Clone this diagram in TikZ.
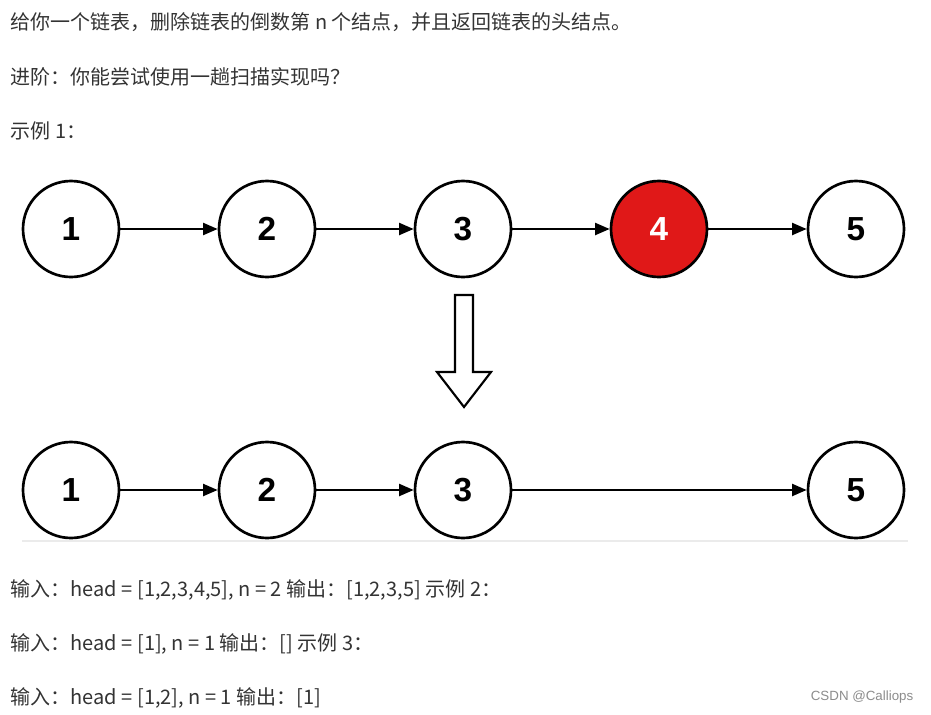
\documentclass[tikz,border=0pt]{standalone}
\usepackage{fontspec}
\setmainfont{Liberation Sans}
\newfontfamily\cjk{Noto Sans CJK SC}
\usetikzlibrary{arrows.meta}
\definecolor{delred}{RGB}{224,24,24}
\tikzset{
	listnode/.style={circle,draw,line width=2pt,minimum size=72pt,inner sep=0pt,font=\fontsize{25}{25}\bfseries},
	link/.style={-{Triangle[length=11pt,width=9pt]},line width=1.8pt},
	line text/.style={anchor=west,font=\cjk\fontsize{15}{17}\selectfont,text=black!80}
}
\begin{document}
\begin{tikzpicture}[x=0.75pt,y=-0.75pt]
	\useasboundingbox[fill=white] (0,0) rectangle (931,714);
	% question text
	\node[line text] (q1) at (6,22) {给你一个链表，删除链表的倒数第 n 个结点，并且返回链表的头结点。};
	\node[line text] (q2) at (6,77) {进阶：你能尝试使用一趟扫描实现吗？};
	\node[line text] (q3) at (6,131) {示例 1：};
	% list before
	\node[listnode] (a1) at (71,229) {1};
	\node[listnode] (a2) at (267,229) {2};
	\node[listnode] (a3) at (463,229) {3};
	\node[listnode,fill=delred,text=white] (a4) at (659,229) {4};
	\node[listnode] (a5) at (856,229) {5};
	\draw[link] (a1) -- (a2);
	\draw[link] (a2) -- (a3);
	\draw[link] (a3) -- (a4);
	\draw[link] (a4) -- (a5);
	% hollow arrow
	\draw[line width=1.6pt,line join=miter] (455,295) -- (473,295) -- (473,372) -- (491,372)
		-- (464,407) -- (437,372) -- (455,372) -- cycle;
	% list after
	\node[listnode] (b1) at (71,490) {1};
	\node[listnode] (b2) at (267,490) {2};
	\node[listnode] (b3) at (463,490) {3};
	\node[listnode] (b5) at (856,490) {5};
	\draw[link] (b1) -- (b2);
	\draw[link] (b2) -- (b3);
	\draw[link] (b3) -- (b5);
	\draw[black!8,line width=2pt] (22,541) -- (908,541);
	% examples
	\node[line text] (e1) at (6,590) {输入：head = [1,2,3,4,5], n = 2 输出：[1,2,3,5] 示例 2：};
	\node[line text] (e2) at (6,644) {输入：head = [1], n = 1 输出：[] 示例 3：};
	\node[line text] (e3) at (6,698) {输入：head = [1,2], n = 1 输出：[1]};
	\node[anchor=east,font=\fontsize{10}{11}\selectfont,text=black!45] (mark) at (918,697) {CSDN @Calliops};
\end{tikzpicture}
\end{document}
